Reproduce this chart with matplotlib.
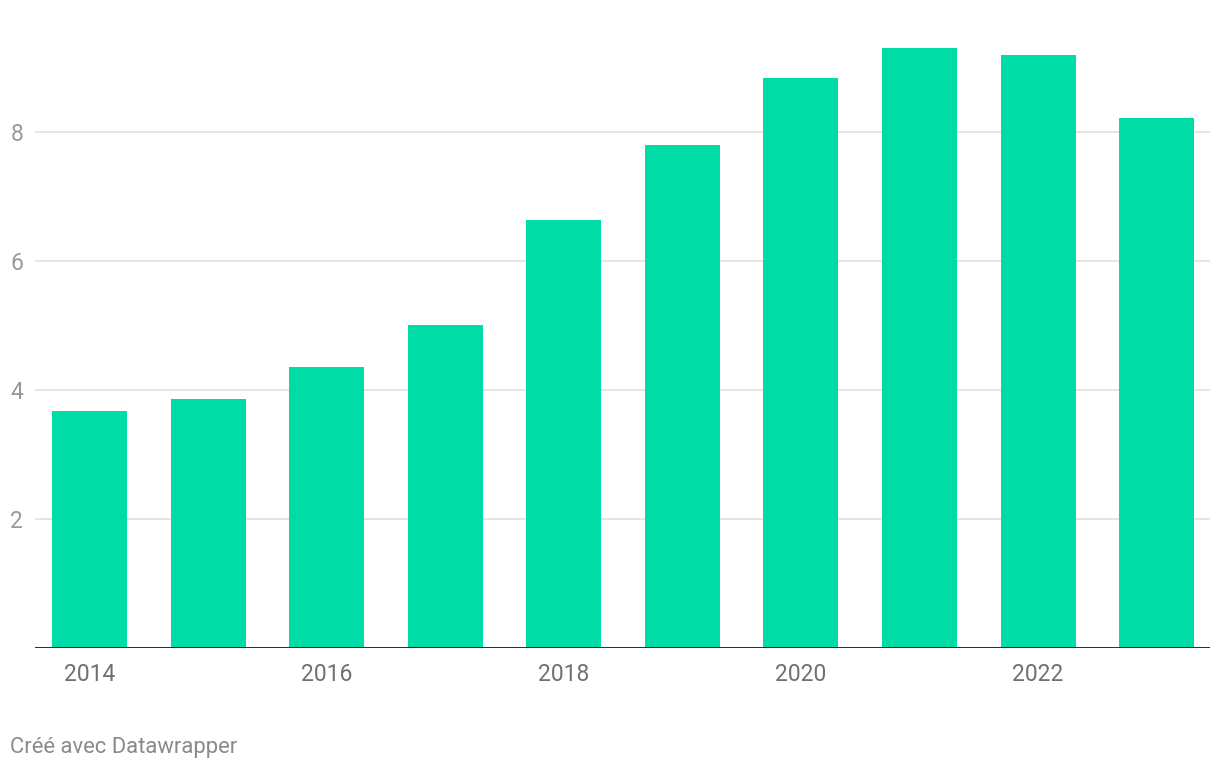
import matplotlib
matplotlib.use("Agg")
import matplotlib.pyplot as plt

years = ["2014", "2015", "2016", "2017", "2018", "2019", "2020", "2021", "2022", "2023"]
values = [3.67, 3.86, 4.36, 5.01, 6.64, 7.80, 8.84, 9.30, 9.19, 8.22]
y_ticks = [2, 4, 6, 8]
x_tick_labels = ["2014", "2016", "2018", "2020", "2022"]

plt.rcParams['font.family'] = ['Roboto', 'DejaVu Sans']

W, H = 1220, 770
fig = plt.figure(figsize=(W/100, H/100), dpi=100)
left, right = 35/W, 1210/W
bottom = (H-648)/H
top_px = 648 - 9.6*64.5
ax = fig.add_axes([left, bottom, right-left, (648-top_px)/H])

x = list(range(len(years)))
ax.bar(x, values, width=0.633, color="#00DCA6", zorder=2)
ax.set_xlim(-0.46, len(years)-1+0.45)
ax.set_ylim(0, 9.6)

for t in y_ticks:
    ax.axhline(t, color="#e3e3e3", lw=1.3, zorder=1)
ax.axhline(0, color="#1a1a1a", lw=2, zorder=3)

ax.set_yticks(y_ticks)
ax.set_yticklabels([str(t) for t in y_ticks])
ax.tick_params(axis='y', length=0, pad=8.5, labelsize=16.5, labelcolor="#999999")
xt = [years.index(l) for l in x_tick_labels]
ax.set_xticks(xt)
ax.set_xticklabels(x_tick_labels)
ax.tick_params(axis='x', length=0, pad=11, labelsize=16.5, labelcolor="#707070")

for s in ax.spines.values():
    s.set_visible(False)

fig.text(10/W, 1 - 748/H, "Créé avec Datawrapper", fontsize=15.8, color="#8a8a8a", va="center", ha="left")

fig.savefig("out.png", dpi=100)
